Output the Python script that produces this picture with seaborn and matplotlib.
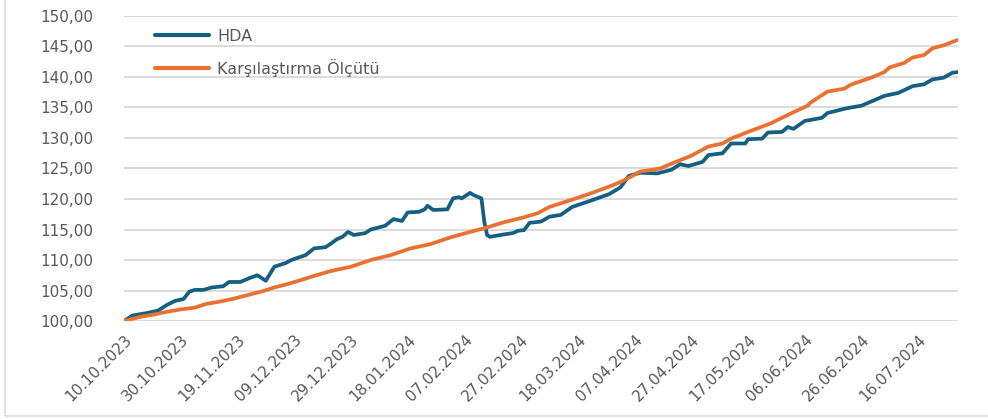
import pandas as pd
import numpy as np
import matplotlib
matplotlib.use("Agg")
import matplotlib.pyplot as plt
from matplotlib.ticker import FuncFormatter
from matplotlib.patches import Rectangle
import seaborn as sns

# HDA fund series
hda_dates = [
    "10.10.2023", "13.10.2023", "18.10.2023", "22.10.2023", "25.10.2023", "28.10.2023",
    "31.10.2023", "02.11.2023", "04.11.2023", "07.11.2023", "10.11.2023", "14.11.2023",
    "16.11.2023", "20.11.2023", "23.11.2023", "26.11.2023", "29.11.2023", "02.12.2023",
    "06.12.2023", "08.12.2023", "13.12.2023", "16.12.2023", "20.12.2023", "22.12.2023",
    "24.12.2023", "26.12.2023", "28.12.2023", "30.12.2023", "03.01.2024", "05.01.2024",
    "10.01.2024", "13.01.2024", "16.01.2024", "18.01.2024", "22.01.2024", "24.01.2024",
    "25.01.2024", "27.01.2024", "01.02.2024", "03.02.2024", "05.02.2024", "06.02.2024",
    "09.02.2024", "10.02.2024", "13.02.2024", "14.02.2024", "15.02.2024", "16.02.2024",
    "21.02.2024", "24.02.2024", "26.02.2024", "28.02.2024", "01.03.2024", "05.03.2024",
    "08.03.2024", "12.03.2024", "16.03.2024", "23.03.2024", "29.03.2024", "02.04.2024",
    "05.04.2024", "09.04.2024", "15.04.2024", "20.04.2024", "23.04.2024", "26.04.2024",
    "01.05.2024", "03.05.2024", "08.05.2024", "11.05.2024", "16.05.2024", "17.05.2024",
    "22.05.2024", "24.05.2024", "29.05.2024", "31.05.2024", "02.06.2024", "06.06.2024",
    "12.06.2024", "14.06.2024", "21.06.2024", "26.06.2024", "30.06.2024", "04.07.2024",
    "09.07.2024", "14.07.2024", "18.07.2024", "21.07.2024", "25.07.2024", "28.07.2024",
    "30.07.2024",
]
hda_values = [
    100.0, 100.9, 101.3, 101.7, 102.6, 103.3,
    103.6, 104.8, 105.1, 105.1, 105.5, 105.7,
    106.4, 106.4, 107.0, 107.5, 106.6, 108.9,
    109.5, 110.0, 110.8, 111.9, 112.1, 112.7,
    113.4, 113.8, 114.6, 114.1, 114.4, 115.0,
    115.6, 116.7, 116.4, 117.8, 117.9, 118.3,
    118.9, 118.2, 118.3, 120.1, 120.3, 120.1,
    121.0, 120.7, 120.1, 116.3, 114.1, 113.8,
    114.2, 114.4, 114.8, 114.9, 116.1, 116.3,
    117.1, 117.4, 118.7, 119.8, 120.8, 121.9,
    123.8, 124.3, 124.2, 124.8, 125.7, 125.4,
    126.1, 127.2, 127.5, 129.1, 129.1, 129.8,
    129.9, 130.9, 131.0, 131.8, 131.5, 132.8,
    133.3, 134.1, 134.9, 135.3, 136.1, 136.9,
    137.4, 138.5, 138.8, 139.6, 139.9, 140.7,
    140.8,
]

# Benchmark series
bench_dates = [
    "10.10.2023", "16.10.2023", "21.10.2023", "25.10.2023", "30.10.2023", "04.11.2023",
    "08.11.2023", "13.11.2023", "18.11.2023", "23.11.2023", "28.11.2023", "02.12.2023",
    "07.12.2023", "12.12.2023", "16.12.2023", "22.12.2023", "29.12.2023", "05.01.2024",
    "12.01.2024", "19.01.2024", "26.01.2024", "02.02.2024", "09.02.2024", "14.02.2024",
    "21.02.2024", "28.02.2024", "04.03.2024", "08.03.2024", "16.03.2024", "23.03.2024",
    "30.03.2024", "03.04.2024", "09.04.2024", "16.04.2024", "20.04.2024", "27.04.2024",
    "03.05.2024", "08.05.2024", "11.05.2024", "17.05.2024", "25.05.2024", "01.06.2024",
    "07.06.2024", "08.06.2024", "14.06.2024", "20.06.2024", "22.06.2024", "30.06.2024",
    "04.07.2024", "06.07.2024", "11.07.2024", "14.07.2024", "18.07.2024", "21.07.2024",
    "25.07.2024", "30.07.2024",
]
bench_values = [
    100.0, 100.7, 101.1, 101.5, 101.9, 102.2,
    102.8, 103.2, 103.7, 104.3, 104.9, 105.5,
    106.1, 106.8, 107.4, 108.2, 108.9, 110.0,
    110.8, 111.9, 112.6, 113.7, 114.6, 115.2,
    116.2, 117.0, 117.7, 118.7, 119.9, 121.0,
    122.2, 123.0, 124.5, 125.0, 125.8, 127.1,
    128.6, 129.1, 129.9, 131.0, 132.4, 134.0,
    135.3, 135.8, 137.6, 138.1, 138.7, 140.0,
    140.8, 141.6, 142.3, 143.2, 143.6, 144.7,
    145.2, 146.1,
]

series_names = ["HDA", "Karşılaştırma Ölçütü"]
series_colors = ["#156082", "#E97132"]

tick_labels = [
    "10.10.2023", "30.10.2023", "19.11.2023", "09.12.2023", "29.12.2023",
    "18.01.2024", "07.02.2024", "27.02.2024", "18.03.2024", "07.04.2024",
    "27.04.2024", "17.05.2024", "06.06.2024", "26.06.2024", "16.07.2024",
]
y_ticks = [100, 105, 110, 115, 120, 125, 130, 135, 140, 145, 150]

df = pd.concat([
    pd.DataFrame({"date": pd.to_datetime(hda_dates, format="%d.%m.%Y"),
                  "value": hda_values, "series": series_names[0]}),
    pd.DataFrame({"date": pd.to_datetime(bench_dates, format="%d.%m.%Y"),
                  "value": bench_values, "series": series_names[1]}),
], ignore_index=True)

sns.set_theme(style="white")
plt.rcParams["font.family"] = ["DejaVu Sans"]

fig = plt.figure(figsize=(9.88, 4.19), dpi=100)
ax = fig.add_axes([124 / 988, 1 - 321 / 419, (958 - 124) / 988, (321 - 16) / 419])

# outer chart border (partially cropped in the original)
fig.patches.append(Rectangle((5 / 988, 3 / 419), 1.2, 1.2, transform=fig.transFigure,
                             fill=False, edgecolor="#d9d9d9", linewidth=1.2))

sns.lineplot(data=df, x="date", y="value", hue="series", hue_order=series_names,
             palette=series_colors, linewidth=2.7, ax=ax, legend=True)

ax.set_ylim(100, 150)
ax.set_yticks(y_ticks)
ax.yaxis.set_major_formatter(FuncFormatter(lambda v, p: f"{v:.2f}".replace(".", ",")))
ax.set_xlim(pd.Timestamp("2023-10-10"), pd.Timestamp("2024-07-30"))
ticks = pd.to_datetime(tick_labels, format="%d.%m.%Y")
ax.set_xticks(ticks)
ax.set_xticklabels(tick_labels, rotation=45, ha="right", rotation_mode="anchor")

ax.grid(axis="y", color="#d9d9d9", linewidth=1.3)
ax.set_axisbelow(True)
for s in ax.spines.values():
    s.set_visible(False)
ax.tick_params(axis="both", length=0, colors="#595959", labelsize=11)
ax.tick_params(axis="y", pad=22)
ax.tick_params(axis="x", pad=8)
ax.set_xlabel("")
ax.set_ylabel("")

leg = ax.legend(loc="upper left", bbox_to_anchor=(0.02, 1.005), frameon=False,
                fontsize=11.5, handlelength=3.4, handletextpad=0.5, labelspacing=0.95)
for t in leg.get_texts():
    t.set_color("#595959")
for h in leg.get_lines():
    h.set_linewidth(3.0)
    h.set_solid_capstyle("round")

fig.savefig("out.png", dpi=100)
